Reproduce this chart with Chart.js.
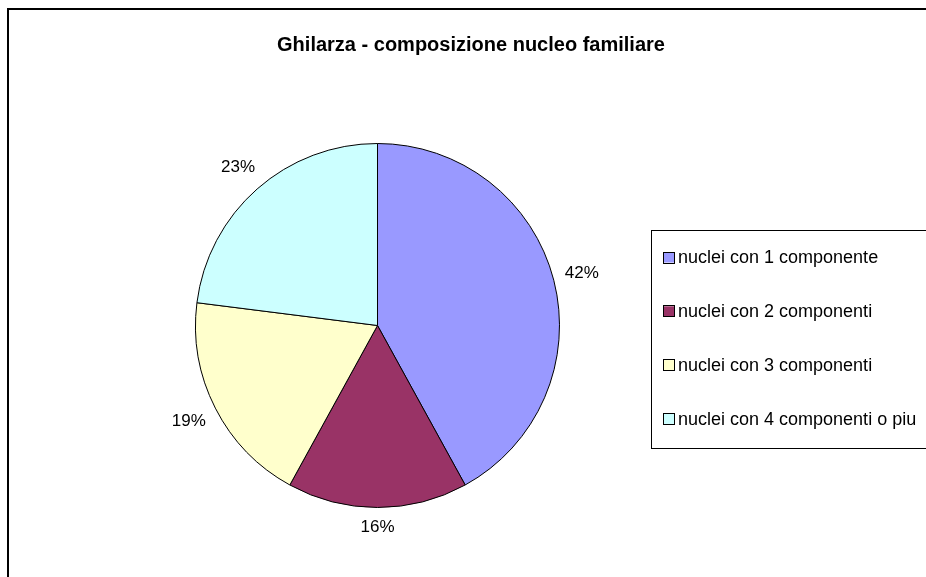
<!DOCTYPE html>
<html>
<head>
<meta charset="utf-8">
<script src="https://cdn.jsdelivr.net/npm/chart.js@4"></script>
<style>
  html, body { margin: 0; padding: 0; background: #fff; overflow: hidden; }
  #wrap { position: absolute; left: 0; top: 0; width: 926px; height: 577px; }
</style>
</head>
<body>
<div id="wrap"><canvas id="pieChart" width="926" height="577"></canvas></div>
<script>
const chartTitle = 'Ghilarza - composizione nucleo familiare';
const categories = [
  'nuclei con 1 componente',
  'nuclei con 2 componenti',
  'nuclei con 3 componenti',
  'nuclei con 4 componenti o piu'
];
const shares = [42, 16, 19, 23];
const sliceColors = ['#9999FF', '#993366', '#FFFFCC', '#CCFFFF'];

const FONT = '"Liberation Sans", Arial, sans-serif';

// frame, title, percent labels and legend box drawn on top of the pie
const decorations = {
  id: 'decorations',
  afterDraw(chart) {
    const ctx = chart.ctx;
    ctx.save();

    // outer frame (runs off the right and bottom edge like the original)
    ctx.strokeStyle = '#000';
    ctx.lineWidth = 2;
    ctx.strokeRect(8, 9, 1000, 1000);

    // title
    ctx.fillStyle = '#000';
    ctx.font = 'bold 20px ' + FONT;
    ctx.textAlign = 'center';
    ctx.textBaseline = 'middle';
    ctx.fillText(chartTitle, 471, 45);

    // percent labels just outside each slice
    const meta = chart.getDatasetMeta(0);
    const total = shares.reduce((a, b) => a + b, 0);
    ctx.font = '17px ' + FONT;
    meta.data.forEach((arc, i) => {
      const p = arc.getProps(['x', 'y', 'startAngle', 'endAngle', 'outerRadius'], true);
      const mid = (p.startAngle + p.endAngle) / 2;
      const txt = Math.round(shares[i] / total * 100) + '%';
      const hw = ctx.measureText(txt).width / 2;
      const hh = 10;
      const c = Math.cos(mid), s = Math.sin(mid);
      const r = p.outerRadius + 10 + Math.abs(c) * hw + Math.abs(s) * hh;
      ctx.fillText(txt, p.x + c * r, p.y + s * r);
    });

    // legend box
    ctx.lineWidth = 1;
    ctx.strokeStyle = '#000';
    ctx.strokeRect(651.5, 230.5, 400, 218);
    ctx.font = '18px ' + FONT;
    ctx.textAlign = 'left';
    categories.forEach((label, i) => {
      const y = 257.5 + i * 53.8;
      ctx.fillStyle = sliceColors[i];
      ctx.fillRect(664, y - 5, 10, 10);
      ctx.strokeRect(663.5, Math.round(y - 5) - 0.5, 11, 11);
      ctx.fillStyle = '#000';
      ctx.fillText(label, 678, y + 1);
    });

    ctx.restore();
  }
};

new Chart(document.getElementById('pieChart'), {
  type: 'pie',
  data: {
    labels: categories,
    datasets: [{
      data: shares,
      backgroundColor: sliceColors,
      borderColor: '#000',
      borderWidth: 1
    }]
  },
  options: {
    responsive: false,
    animation: false,
    layout: {
      padding: { left: 195, right: 366, top: 143, bottom: 69 }
    },
    plugins: {
      legend: { display: false },
      title: { display: false },
      tooltip: { enabled: false }
    }
  },
  plugins: [decorations]
});
</script>
</body>
</html>
